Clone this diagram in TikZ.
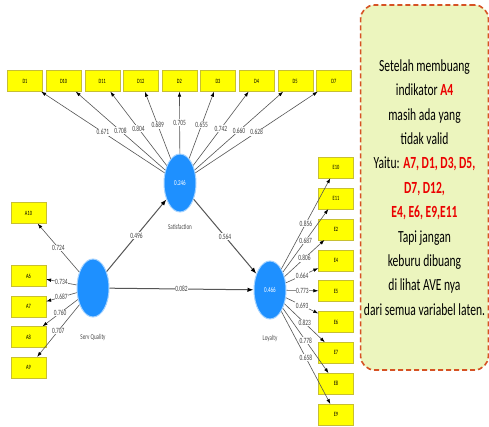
\documentclass[tikz,border=0pt]{standalone}
\usepackage{fontspec}
\setmainfont{Carlito}
\newfontfamily\notefont[FakeStretch=0.68]{Carlito}
\usetikzlibrary{positioning,arrows.meta,shapes.geometric}

\definecolor{latblue}{RGB}{30,144,255}
\definecolor{indyellow}{RGB}{255,255,0}
\definecolor{notered}{RGB}{214,82,36}
\definecolor{notefill}{RGB}{236,245,190}
\definecolor{linegray}{RGB}{85,85,85}
\definecolor{hired}{RGB}{235,0,0}

\begin{document}
\begin{tikzpicture}[x=1pt, y=1pt, node distance=38.6pt,
	ind/.style={shape=rectangle, fill=indyellow, draw=yellow!75!black, line width=0.3pt, minimum width=35pt, minimum height=21pt, inner sep=0pt, font=\notefont\fontsize{6.5}{7}\selectfont},
	lat/.style={shape=ellipse, fill=latblue, draw=latblue!40, line width=1pt, minimum width=32pt, minimum height=58pt, inner sep=0pt, text=white, font=\notefont\fontsize{7.5}{8}\selectfont},
	latname/.style={font=\notefont\fontsize{7.5}{8}\selectfont, text=black!70},
	coef/.style={fill=white, inner sep=0.6pt, font=\notefont\fontsize{8}{8}\selectfont, text=black!75},
	loadarrow/.style={draw=linegray, line width=0.6pt, -{Latex[length=5pt,width=3.5pt,color=black]}},
	pathline/.style={draw=linegray, line width=1pt, -{Latex[length=6pt,width=4.5pt,color=black]}}]
	\useasboundingbox (0,0) rectangle (489,426);
	\fill[white] (0,0) rectangle (489,426);

	% latent variables
	\node (satis) at (180,243) [lat] {0.246};
	\node (servq) at (93,138) [lat] {};
	\node (loyal) at (270,136) [lat] {0.466};
	\node (satisname) [node distance=44pt, below of=satis, latname] {Satisfaction};
	\node (servqname) [node distance=49pt, below of=servq, latname] {Serv Quality};
	\node (loyalname) [node distance=48pt, below of=loyal, latname] {Loyalty};

	% indicators of satisfaction
	\node (d1) at (25,345) [ind] {D1};
	\node (d10) [ind, right of=d1] {D10};
	\node (d11) [ind, right of=d10] {D11};
	\node (d12) [ind, right of=d11] {D12};
	\node (d2) [ind, right of=d12] {D2};
	\node (d3) [ind, right of=d2] {D3};
	\node (d4) [ind, right of=d3] {D4};
	\node (d5) [ind, right of=d4] {D5};
	\node (d7) [ind, right of=d5] {D7};

	% indicators of service quality
	\node (a10) at (28.5,213) [ind] {A10};
	\node (a6) at (28.5,150) [ind] {A6};
	\node (a7) [ind, node distance=30.5pt, below of=a6] {A7};
	\node (a8) [ind, node distance=30.5pt, below of=a7] {A8};
	\node (a9) [ind, node distance=30.5pt, below of=a8] {A9};

	% indicators of loyalty
	\node (e10) at (336,258.5) [ind] {E10};
	\node (e11) [ind, node distance=30.9pt, below of=e10] {E11};
	\node (e2) [ind, node distance=30.9pt, below of=e11] {E2};
	\node (e4) [ind, node distance=30.9pt, below of=e2] {E4};
	\node (e5) [ind, node distance=30.9pt, below of=e4] {E5};
	\node (e6) [ind, node distance=30.9pt, below of=e5] {E6};
	\node (e7) [ind, node distance=30.9pt, below of=e6] {E7};
	\node (e8) [ind, node distance=30.9pt, below of=e7] {E8};
	\node (e9) [ind, node distance=30.9pt, below of=e8] {E9};

	% outer loadings
	\draw [loadarrow] (satis) -- node[coef] {0.671} (d1);
	\draw [loadarrow] (satis) -- node[coef] {0.708} (d10);
	\draw [loadarrow] (satis) -- node[coef] {0.804} (d11);
	\draw [loadarrow] (satis) -- node[coef] {0.689} (d12);
	\draw [loadarrow] (satis) -- node[coef] {0.705} (d2);
	\draw [loadarrow] (satis) -- node[coef] {0.655} (d3);
	\draw [loadarrow] (satis) -- node[coef] {0.742} (d4);
	\draw [loadarrow] (satis) -- node[coef] {0.660} (d5);
	\draw [loadarrow] (satis) -- node[coef] {0.628} (d7);

	\draw [loadarrow] (servq) -- node[coef] {0.724} (a10);
	\draw [loadarrow] (servq) -- node[coef] {0.734} (a6);
	\draw [loadarrow] (servq) -- node[coef] {0.687} (a7);
	\draw [loadarrow] (servq) -- node[coef] {0.760} (a8);
	\draw [loadarrow] (servq) -- node[coef] {0.707} (a9);

	\draw [loadarrow] (loyal) -- node[coef] {0.856} (e10);
	\draw [loadarrow] (loyal) -- node[coef] {0.687} (e11);
	\draw [loadarrow] (loyal) -- node[coef] {0.806} (e2);
	\draw [loadarrow] (loyal) -- node[coef] {0.664} (e4);
	\draw [loadarrow] (loyal) -- node[coef] {0.773} (e5);
	\draw [loadarrow] (loyal) -- node[coef] {0.693} (e6);
	\draw [loadarrow] (loyal) -- node[coef] {0.823} (e7);
	\draw [loadarrow] (loyal) -- node[coef] {0.778} (e8);
	\draw [loadarrow] (loyal) -- node[coef] {0.658} (e9);

	% inner model
	\draw [pathline] (servq) -- node[coef] {0.496} (satis);
	\draw [pathline] (satis) -- node[coef] {0.564} (loyal);
	\draw [pathline] (servq) -- node[coef] {0.082} (loyal);

	% remark
	\node (note) at (424.5,238.5) [shape=rectangle, draw=notered, dash pattern=on 5pt off 3pt, line width=1.6pt, rounded corners=14pt, fill=notefill, minimum width=125pt, minimum height=365pt, align=center, font=\notefont\fontsize{17}{24.4}\selectfont] {Setelah membuang\\indikator \textcolor{hired}{\textbf{A4}}\\masih ada yang\\tidak valid\\Yaitu: \textcolor{hired}{\textbf{A7, D1, D3, D5,}}\\\textcolor{hired}{\textbf{D7, D12,}}\\\textcolor{hired}{\textbf{E4, E6, E9,E11}}\\Tapi jangan\\keburu dibuang\\di lihat AVE nya\\dari semua variabel laten.};
\end{tikzpicture}
\end{document}
